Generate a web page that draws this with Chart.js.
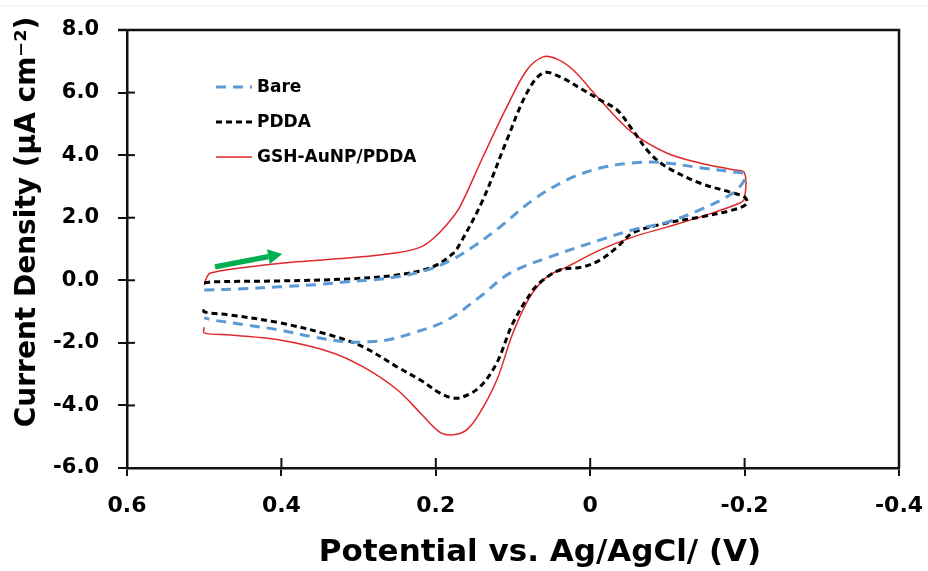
<!DOCTYPE html>
<html>
<head>
<meta charset="utf-8">
<script src="https://cdn.jsdelivr.net/npm/chart.js@4.4.1/dist/chart.umd.min.js"></script>
<style>
  html, body { margin: 0; padding: 0; background: #ffffff; }
  #wrap { width: 928px; height: 571px; position: relative; }
</style>
</head>
<body>
<div id="wrap"><canvas id="c" width="928" height="571"></canvas></div>
<script>
// ---------- data ----------
const seriesNames = ['Bare', 'PDDA', 'GSH-AuNP/PDDA'];

// Bare electrode: potential (V) and current density (µA cm-2)
const bareV = [0.5, 0.45, 0.402, 0.35, 0.315, 0.28, 0.25, 0.215, 0.182, 0.15, 0.117, 0.074, 0.03, -0.013, -0.055, -0.09, -0.142, -0.185, -0.2,
               -0.2, -0.185, -0.142, -0.1, -0.055, -0.013, 0.052, 0.104, 0.143, 0.185, 0.229, 0.263, 0.289, 0.315, 0.359, 0.402, 0.445, 0.489, 0.5];
const bareI = [-0.31, -0.27, -0.21, -0.13, -0.05, 0.02, 0.11, 0.3, 0.62, 1.1, 1.7, 2.57, 3.21, 3.59, 3.75, 3.77, 3.6, 3.46, 3.4,
               3.21, 2.79, 2.25, 1.86, 1.61, 1.29, 0.75, 0.23, -0.53, -1.27, -1.68, -1.91, -1.97, -1.97, -1.81, -1.59, -1.43, -1.27, -1.2];

// PDDA
const pddaV = [0.5, 0.489, 0.402, 0.315, 0.25, 0.204, 0.178, 0.169, 0.139, 0.108, 0.082, 0.061, 0.039, 0.009, -0.013, -0.035, -0.055, -0.077, -0.099, -0.142, -0.185, -0.2,
               -0.203, -0.185, -0.142, -0.099, -0.055, -0.035, -0.013, 0.009, 0.039, 0.061, 0.074, 0.1, 0.121, 0.143, 0.165, 0.178, 0.195, 0.22, 0.25, 0.294, 0.337, 0.402, 0.466, 0.5, 0.5];
const pddaI = [-0.09, -0.05, -0.02, 0.04, 0.17, 0.43, 0.85, 1.15, 2.57, 4.48, 5.99, 6.63, 6.5, 6.08, 5.76, 5.44, 4.8, 4.07, 3.62, 3.11, 2.79, 2.66,
               2.45, 2.25, 2.02, 1.83, 1.51, 1.06, 0.65, 0.43, 0.33, 0.01, -0.31, -1.36, -2.64, -3.41, -3.73, -3.76, -3.6, -3.19, -2.77, -2.13, -1.75, -1.36, -1.11, -1.01, -0.88];

// GSH-AuNP/PDDA
const gshV = [0.5, 0.497, 0.492, 0.454, 0.38, 0.315, 0.25, 0.22, 0.204, 0.185, 0.169, 0.139, 0.108, 0.082, 0.061, 0.043, 0.022, -0.013, -0.055, -0.099, -0.142, -0.185, -0.2,
              -0.2, -0.194, -0.142, -0.099, -0.055, -0.013, 0.03, 0.056, 0.078, 0.1, 0.121, 0.143, 0.16, 0.178, 0.195, 0.22, 0.25, 0.294, 0.337, 0.402, 0.466, 0.5, 0.5];
const gshI = [-0.15, 0.08, 0.23, 0.39, 0.59, 0.71, 0.88, 1.06, 1.32, 1.8, 2.34, 3.94, 5.54, 6.72, 7.14, 7.07, 6.72, 5.76, 4.71, 4.07, 3.75, 3.53, 3.43,
              2.63, 2.47, 2.02, 1.7, 1.38, 0.97, 0.43, 0.11, -0.53, -1.68, -3.19, -4.24, -4.78, -4.94, -4.85, -4.24, -3.5, -2.77, -2.29, -1.91, -1.75, -1.68, -1.5];

// axis ticks
const xTickValues = [0.6, 0.4, 0.2, 0, -0.2, -0.4];
const xTickLabels = ['0.6', '0.4', '0.2', '0', '-0.2', '-0.4'];
const yTickValues = [-6, -4, -2, 0, 2, 4, 6, 8];
const yTickLabels = ['-6.0', '-4.0', '-2.0', '0.0', '2.0', '4.0', '6.0', '8.0'];

const xTitle = 'Potential vs. Ag/AgCl/ (V)';
const yTitle = 'Current Density (µA cm⁻²)';

// scan-direction arrow (data coordinates)
const arrowFrom = { x: 0.486, y: 0.43 };
const arrowTo = { x: 0.399, y: 0.84 };

// ---------- build ----------
const toPoints = (vs, is) => vs.map((v, k) => ({ x: v, y: is[k] }));
const FONT = '"DejaVu Sans", "Liberation Sans", Arial, sans-serif';

const datasets = [
  { label: seriesNames[0], data: toPoints(bareV, bareI), borderColor: '#5B9BD5', borderWidth: 3, borderDash: [10, 7] },
  { label: seriesNames[1], data: toPoints(pddaV, pddaI), borderColor: '#000000', borderWidth: 3, borderDash: [6, 4] },
  { label: seriesNames[2], data: toPoints(gshV, gshI), borderColor: '#E0282A', borderWidth: 1.5, borderDash: [] }
].map(d => Object.assign(d, { showLine: true, pointRadius: 0, tension: 0.35, fill: false }));

const decorPlugin = {
  id: 'decor',
  beforeDraw(chart) {
    const ctx = chart.ctx;
    ctx.save();
    ctx.strokeStyle = '#efefef';
    ctx.lineWidth = 1;
    ctx.beginPath(); ctx.moveTo(0, 5.5); ctx.lineTo(chart.width, 5.5); ctx.stroke();
    ctx.restore();
  },
  afterDraw(chart) {
    const ctx = chart.ctx;
    const xs = chart.scales.x, ys = chart.scales.y;
    const a = chart.chartArea;
    ctx.save();
    // top and right frame
    ctx.strokeStyle = '#111'; ctx.lineWidth = 2.5;
    ctx.beginPath(); ctx.moveTo(a.left - 9, a.top); ctx.lineTo(a.right, a.top); ctx.lineTo(a.right, a.bottom); ctx.stroke();
    // inner tick marks
    ctx.lineWidth = 2;
    xs.ticks.forEach(t => { const p = xs.getPixelForValue(t.value); ctx.beginPath(); ctx.moveTo(p, a.bottom); ctx.lineTo(p, a.bottom - 10); ctx.stroke(); });
    ys.ticks.forEach(t => { const p = ys.getPixelForValue(t.value); ctx.beginPath(); ctx.moveTo(a.left, p); ctx.lineTo(a.left + 8, p); ctx.stroke(); });

    // arrow
    const x0 = xs.getPixelForValue(arrowFrom.x), y0 = ys.getPixelForValue(arrowFrom.y);
    const x1 = xs.getPixelForValue(arrowTo.x), y1 = ys.getPixelForValue(arrowTo.y);
    const ang = Math.atan2(y1 - y0, x1 - x0);
    const headL = 14, headW = 7.5;
    const bx = x1 - headL * Math.cos(ang), by = y1 - headL * Math.sin(ang);
    ctx.strokeStyle = '#00B050'; ctx.fillStyle = '#00B050';
    ctx.lineWidth = 5.5; ctx.lineCap = 'butt';
    ctx.beginPath(); ctx.moveTo(x0, y0); ctx.lineTo(bx, by); ctx.stroke();
    ctx.beginPath();
    ctx.moveTo(x1, y1);
    ctx.lineTo(bx + headW * Math.sin(ang), by - headW * Math.cos(ang));
    ctx.lineTo(bx - headW * Math.sin(ang), by + headW * Math.cos(ang));
    ctx.closePath(); ctx.fill();

    // legend
    const lx0 = 216, lx1 = 252, ly0 = 87, dy = 35;
    chart.data.datasets.forEach((d, k) => {
      const yy = ly0 + k * dy;
      ctx.strokeStyle = d.borderColor; ctx.lineWidth = d.borderWidth;
      ctx.setLineDash(d.borderDash || []);
      ctx.beginPath(); ctx.moveTo(lx0, yy); ctx.lineTo(lx1, yy); ctx.stroke();
      ctx.setLineDash([]);
      ctx.fillStyle = '#000'; ctx.font = 'bold 17px ' + FONT;
      ctx.textAlign = 'left'; ctx.textBaseline = 'middle';
      ctx.fillText(d.label, 257, yy + 1);
    });

    // axis titles
    ctx.fillStyle = '#000';
    ctx.font = 'bold 31px ' + FONT;
    ctx.textAlign = 'center'; ctx.textBaseline = 'middle';
    ctx.fillText(xTitle, 540, 553);
    ctx.translate(28, 222); ctx.rotate(-Math.PI / 2);
    ctx.font = 'bold 28px ' + FONT;
    ctx.fillText(yTitle, 0, 0);
    ctx.restore();
  }
};

new Chart(document.getElementById('c'), {
  type: 'scatter',
  data: { datasets },
  plugins: [decorPlugin],
  options: {
    responsive: false,
    animation: false,
    layout: { padding: { top: 30, right: 29, left: 0, bottom: 0 } },
    plugins: { legend: { display: false }, tooltip: { enabled: false } },
    scales: {
      x: {
        type: 'linear', min: -0.4, max: 0.6, reverse: true,
        afterBuildTicks: s => { s.ticks = xTickValues.map(v => ({ value: v })); },
        afterFit: s => { s.height = 103; s.paddingLeft = 0; s.paddingRight = 0; },
        ticks: { callback: (v, i) => xTickLabels[i], color: '#000', padding: 17, maxRotation: 0, autoSkip: false,
                 font: { family: FONT, size: 22, weight: 'bold' } },
        grid: { display: true, drawOnChartArea: false, drawTicks: true, tickLength: 8, color: '#111', lineWidth: 2 },
        border: { display: true, color: '#111', width: 2.5 },
        title: { display: false, text: xTitle }
      },
      y: {
        type: 'linear', min: -6, max: 8,
        afterBuildTicks: s => { s.ticks = yTickValues.map(v => ({ value: v })); },
        afterFit: s => { s.width = 127; s.paddingTop = 0; s.paddingBottom = 0; },
        ticks: { callback: (v, i) => yTickLabels[i], color: '#000', padding: 19, autoSkip: false,
                 font: { family: FONT, size: 21, weight: 'bold' } },
        grid: { display: true, drawOnChartArea: false, drawTicks: true, tickLength: 9, color: '#111', lineWidth: 2 },
        border: { display: true, color: '#111', width: 2.5 },
        title: { display: false, text: yTitle }
      }
    }
  }
});
</script>
</body>
</html>
